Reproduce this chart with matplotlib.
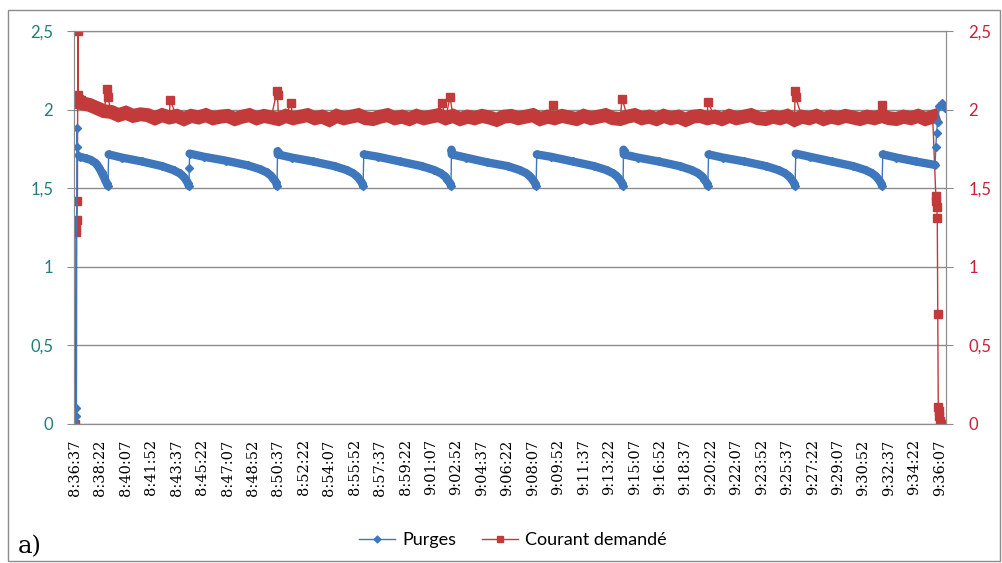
import matplotlib.pyplot as plt
import numpy as np
from matplotlib.patches import Rectangle
from matplotlib.lines import Line2D

# time axis: seconds since 8:36:37, one label every 105 s
tick_labels = ["8:36:37", "8:38:22", "8:40:07", "8:41:52", "8:43:37", "8:45:22",
               "8:47:07", "8:48:52", "8:50:37", "8:52:22", "8:54:07", "8:55:52",
               "8:57:37", "8:59:22", "9:01:07", "9:02:52", "9:04:37", "9:06:22",
               "9:08:07", "9:09:52", "9:11:37", "9:13:22", "9:15:07", "9:16:52",
               "9:18:37", "9:20:22", "9:22:07", "9:23:52", "9:25:37", "9:27:22",
               "9:29:07", "9:30:52", "9:32:37", "9:34:22", "9:36:07"]
tick_t = np.arange(len(tick_labels)) * 105

# Purges (blue)
purge_t = [2, 4, 6, 8, 10, 12,
           20, 45, 65, 85, 100, 110, 118, 125, 131, 136,
           139, 193, 276, 360, 407, 432, 447, 457, 465, 470,
           472,
           473, 532, 623, 714, 765, 792, 809, 819, 829, 834,
           836,
           837, 894, 983, 1072, 1122, 1148, 1164, 1175, 1184, 1189,
           1192, 1251, 1341, 1432, 1483, 1510, 1527, 1537, 1547, 1552,
           1554,
           1555, 1612, 1699, 1787, 1836, 1863, 1878, 1889, 1898, 1903,
           1906, 1964, 2054, 2144, 2194, 2221, 2237, 2248, 2257, 2262,
           2264,
           2265, 2322, 2409, 2497, 2546, 2572, 2588, 2598, 2607, 2612,
           2615, 2673, 2763, 2853, 2904, 2931, 2947, 2958, 2967, 2972,
           2975, 3033, 3123, 3213, 3263, 3290, 3306, 3317, 3326, 3331,
           3334, 3390, 3470, 3550,
           3553, 3556, 3560, 3568, 3580, 3592]
purge_v = [0.0, 0.05, 0.10, 1.88, 1.76, 1.71,
           1.70, 1.69, 1.68, 1.66, 1.63, 1.60, 1.575, 1.55, 1.53, 1.515,
           1.715, 1.695, 1.67, 1.64, 1.615, 1.595, 1.575, 1.555, 1.535, 1.515,
           1.63,
           1.72, 1.70, 1.675, 1.645, 1.62, 1.60, 1.58, 1.56, 1.54, 1.515,
           1.735,
           1.715, 1.695, 1.67, 1.64, 1.615, 1.595, 1.575, 1.555, 1.535, 1.515,
           1.715, 1.70, 1.67, 1.64, 1.615, 1.595, 1.575, 1.555, 1.535, 1.515,
           1.745,
           1.715, 1.695, 1.665, 1.64, 1.615, 1.595, 1.575, 1.555, 1.535, 1.515,
           1.715, 1.70, 1.67, 1.64, 1.615, 1.595, 1.575, 1.555, 1.535, 1.515,
           1.745,
           1.715, 1.695, 1.67, 1.64, 1.615, 1.595, 1.575, 1.555, 1.535, 1.515,
           1.715, 1.695, 1.67, 1.64, 1.615, 1.595, 1.575, 1.555, 1.535, 1.515,
           1.72, 1.70, 1.67, 1.64, 1.615, 1.595, 1.575, 1.555, 1.535, 1.515,
           1.715, 1.695, 1.67, 1.648,
           1.76, 1.85, 1.92, 2.02, 2.04, 2.01]

# Courant demandé (red)
red_band_t = np.arange(30, 3541, 30)
red_band_v = [2.04, 2.03, 2.01, 1.99, 1.985, 1.965, 1.98, 1.96, 1.97, 1.965,
              1.945, 1.965, 1.95, 1.96, 1.94, 1.96, 1.95, 1.965, 1.945, 1.955,
              1.96, 1.94, 1.955, 1.965, 1.945, 1.96, 1.95, 1.94, 1.96, 1.945,
              1.955, 1.965, 1.945, 1.955, 1.935, 1.96, 1.945, 1.955, 1.965, 1.945,
              1.94, 1.955, 1.965, 1.945, 1.955, 1.94, 1.96, 1.945, 1.955, 1.965,
              1.945, 1.96, 1.94, 1.955, 1.945, 1.96, 1.95, 1.935, 1.955, 1.96,
              1.945, 1.955, 1.965, 1.94, 1.955, 1.945, 1.96, 1.95, 1.94, 1.96,
              1.945, 1.955, 1.965, 1.945, 1.94, 1.955, 1.965, 1.945, 1.955, 1.94,
              1.96, 1.945, 1.955, 1.935, 1.955, 1.96, 1.945, 1.955, 1.94, 1.96,
              1.945, 1.955, 1.965, 1.945, 1.94, 1.955, 1.945, 1.96, 1.935, 1.955,
              1.945, 1.96, 1.94, 1.955, 1.945, 1.96, 1.95, 1.94, 1.955, 1.945,
              1.96, 1.945, 1.94, 1.955, 1.945, 1.96, 1.94, 1.955]
red_start_t = [2, 4, 6, 8, 10, 12, 14, 18, 24]
red_start_v = [0.0, 1.25, 1.22, 1.30, 1.42, 2.50, 2.09, 2.07, 2.06]
red_spike_t = [133, 135, 392, 834, 836, 891, 1515, 1548, 1973, 2258, 2612, 2972, 2974, 3331]
red_spike_v = [2.13, 2.08, 2.06, 2.12, 2.09, 2.04, 2.04, 2.08, 2.03, 2.07, 2.05, 2.12, 2.08, 2.03]
red_end_t = [3553, 3555, 3557, 3559, 3561, 3563, 3565, 3567, 3570, 3574, 3578]
red_end_v = [1.45, 1.42, 1.38, 1.31, 0.70, 0.11, 0.08, 0.05, 0.02, 0.0, 0.0]

blue = "#3F77BD"
red = "#C23A3A"
grey = "#8C8C8C"

fig = plt.figure(figsize=(10.02, 5.63), dpi=100)
ax = fig.add_axes([74/1002, 1-424/563, 872/1002, 393/563])

# red series: thin line through everything, thick band for the dense part
rt = np.concatenate([red_start_t, red_band_t, red_spike_t, red_end_t]).astype(float)
rv = np.concatenate([red_start_v, red_band_v, red_spike_v, red_end_v])
order = np.argsort(rt, kind="stable")
ax.plot(red_band_t, red_band_v, color=red, lw=10, zorder=3, solid_joinstyle="miter")
ax.plot(rt[order], rv[order], color=red, lw=1, marker="s", ms=5.5, zorder=4)

# blue series: thin line with markers, thick where samples are dense
t = np.array(purge_t, float)
v = np.array(purge_v, float)
ax.plot(t, v, color=blue, lw=1, marker="D", ms=3.8, zorder=5)
jump = np.where(np.diff(v) > 0.08)[0] + 1
tt = np.insert(t, jump, np.nan)
vv = np.insert(v, jump, np.nan)
vv[(tt < 15) | (tt > 3551)] = np.nan
ax.plot(tt, vv, color=blue, lw=6, zorder=5, solid_capstyle="round")

ax.set_xlim(-4, 3595)
ax.set_ylim(0, 2.5)
yt = [0, 0.5, 1, 1.5, 2, 2.5]
yl = ["0", "0,5", "1", "1,5", "2", "2,5"]
ax.set_yticks(yt)
ax.set_yticklabels(yl, fontfamily="Lato", fontsize=12, color="#217C7C")
ax.set_xticks(tick_t)
ax.set_xticklabels(tick_labels, rotation=90, fontfamily="DejaVu Serif", fontsize=10.5,
                   ha="center", va="top")
ax.tick_params(axis="x", length=0, pad=11)
ax.tick_params(axis="y", length=5, color=grey, pad=10)
ax.grid(axis="y", color=grey, lw=1)
ax.set_axisbelow(True)
for s in ax.spines.values():
    s.set_color(grey)

ax2 = ax.twinx()
ax2.set_ylim(0, 2.5)
ax2.set_yticks(yt)
ax2.set_yticklabels(yl, fontfamily="Lato", fontsize=12, color="#C8203C")
ax2.tick_params(axis="y", length=5, color=grey, pad=11)
for s in ax2.spines.values():
    s.set_color(grey)

# legend
handles = [Line2D([], [], color=blue, lw=1, marker="D", ms=3.5),
           Line2D([], [], color=red, lw=1, marker="s", ms=4.5)]
fig.legend(handles, ["Purges", "Courant demandé"], loc="center",
           bbox_to_anchor=(513/1002, 1-540/563), ncol=2, frameon=False,
           prop={"family": "Lato", "size": 13}, handlelength=2.0,
           handletextpad=0.4, columnspacing=1.4)

fig.text(18/1002, 1-553/563, "a)", fontfamily="DejaVu Serif", fontsize=17.5)

fig.patches.append(Rectangle((8/1002, 2/563), 992/1002, 551/563, transform=fig.transFigure,
                             fill=False, ec=grey, lw=1))

fig.savefig("out.png", dpi=100)
